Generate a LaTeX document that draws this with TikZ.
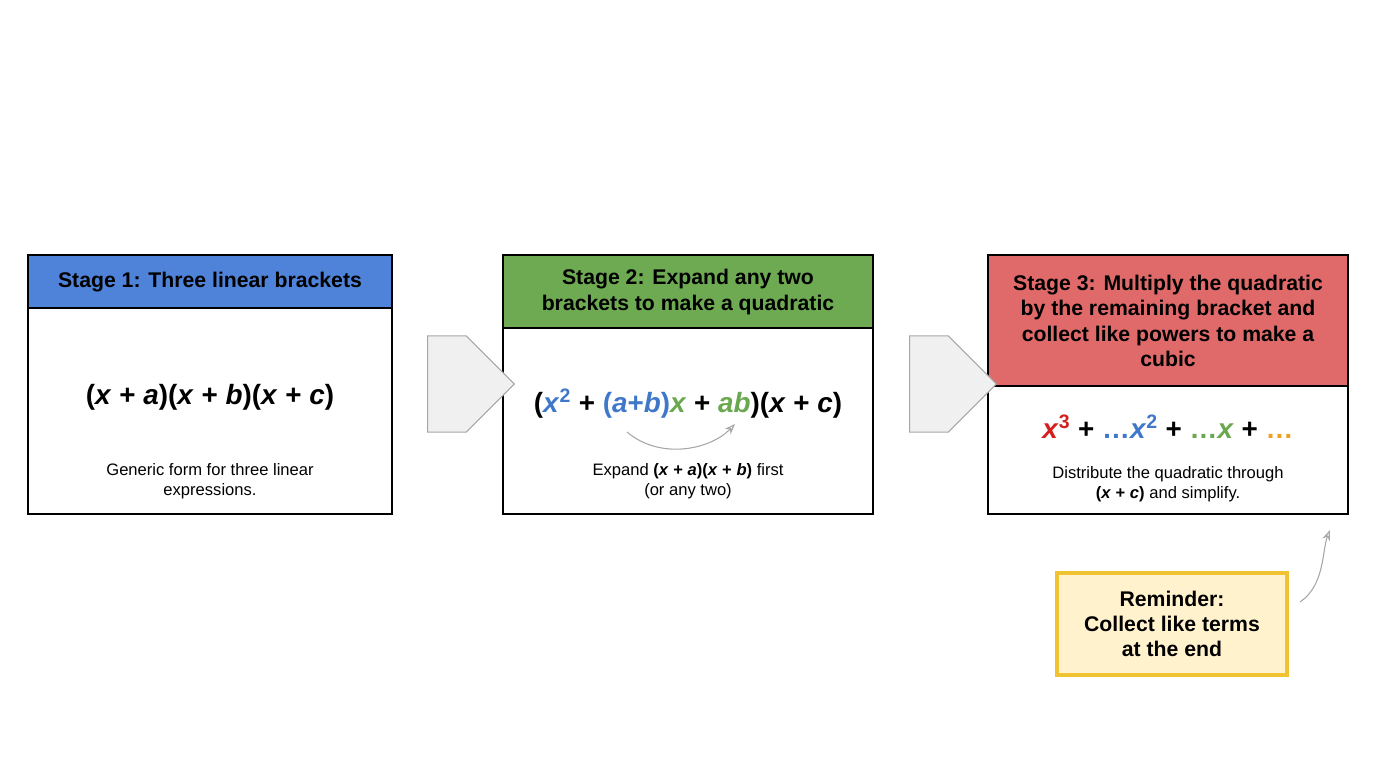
\documentclass[tikz,border=0pt]{standalone}
\usepackage{fontspec}
\setmainfont{Liberation Sans}
\usetikzlibrary{positioning,shapes.arrows,arrows.meta}
\definecolor{hblue}{HTML}{4F83D9}
\definecolor{hgreen}{HTML}{6DAA52}
\definecolor{hred}{HTML}{E06A6A}
\definecolor{tblue}{HTML}{3F78C9}
\definecolor{tgreen}{HTML}{6AA84F}
\definecolor{tred}{HTML}{D51F1F}
\definecolor{torange}{HTML}{F0A020}
\definecolor{remfill}{HTML}{FFF2CC}
\definecolor{remline}{HTML}{F1C232}
\tikzset{
  stage/.style={draw=black, line width=1.3pt},
  head/.style={font=\fontsize{16}{19}\selectfont\bfseries, align=center},
  formula/.style={font=\fontsize{21}{25}\selectfont\bfseries},
  note/.style={font=\fontsize{12.5}{15}\selectfont, align=center},
  bigarrow/.style={single arrow, draw=gray!70, fill=gray!12, line width=0.8pt,
    minimum height=2.3cm, minimum width=2.55cm, single arrow head extend=0pt, inner sep=0pt}
}
\begin{document}
\begin{tikzpicture}[x=0.0265cm, y=-0.0265cm]
\useasboundingbox (0,0) rectangle (1376,768);
% stage 1
\fill[hblue] (28,255) rectangle (392,308);
\draw[stage] (28,255) rectangle (392,514);
\draw[stage] (28,308) -- (392,308);
\node[head] (headA) at (210,282) {Stage 1: Three linear brackets};
\node[formula] (formA) at (210,397) {(\textit{x} + \textit{a})(\textit{x} + \textit{b})(\textit{x} + \textit{c})};
\node[note] (noteA) at (210,481) {Generic form for three linear\\expressions.};
% stage 2
\fill[hgreen] (503,255) rectangle (873,328);
\draw[stage] (503,255) rectangle (873,514);
\draw[stage] (503,328) -- (873,328);
\node[head] (headB) at (688,292) {Stage 2: Expand any two\\brackets to make a quadratic};
\node[formula] (formB) at (688,404) {(\textcolor{tblue}{\textit{x}$^{\mathbf 2}$} + \textcolor{tblue}{(\textit{a}+\textit{b})}\textcolor{tgreen}{\textit{x}} + \textcolor{tgreen}{\textit{ab}})(\textit{x} + \textit{c})};
\node[note] (noteB) at (688,481) {Expand \textbf{(\textit{x} + \textit{a})(\textit{x} + \textit{b})} first\\(or any two)};
\coordinate (curlA) at (627,432);
\coordinate (curlB) at (735,424);
\draw[gray!70, line width=0.8pt, -{Stealth[length=8pt, open, fill=gray!12]}] (curlA) .. controls (660,460) and (710,450) .. (curlB);
% stage 3
\fill[hred] (988,255) rectangle (1348,386);
\draw[stage] (988,255) rectangle (1348,514);
\draw[stage] (988,386) -- (1348,386);
\node[head] (headC) at (1168,321) {Stage 3: Multiply the quadratic\\by the remaining bracket and\\collect like powers to make a\\cubic};
\node[formula] (formC) at (1168,427) {\textcolor{tred}{\textit{x}$^{\mathbf 3}$} + \textcolor{tblue}{\dots\textit{x}$^{\mathbf 2}$} + \textcolor{tgreen}{\dots\textit{x}} + \textcolor{torange}{\dots}};
\node[note] (noteC) at (1168,484) {Distribute the quadratic through\\\textbf{(\textit{x} + \textit{c})} and simplify.};
% arrows between stages
\node[bigarrow] (arrA) at (447,384) {};
\node[bigarrow] (arrB) at (929,384) {};
% reminder
\node[draw=remline, fill=remfill, line width=2.5pt, minimum width=6.1cm, minimum height=2.7cm,
  font=\fontsize{16}{19}\selectfont\bfseries, align=center] (remind) at (1172,624) {Reminder:\\Collect like terms\\at the end};
\coordinate (tipR) at (1330,530);
\draw[gray!70, line width=0.8pt, -{Stealth[length=8pt, open, fill=gray!12]}] (1300,602) .. controls (1325,585) and (1322,550) .. (tipR);
\end{tikzpicture}
\end{document}
